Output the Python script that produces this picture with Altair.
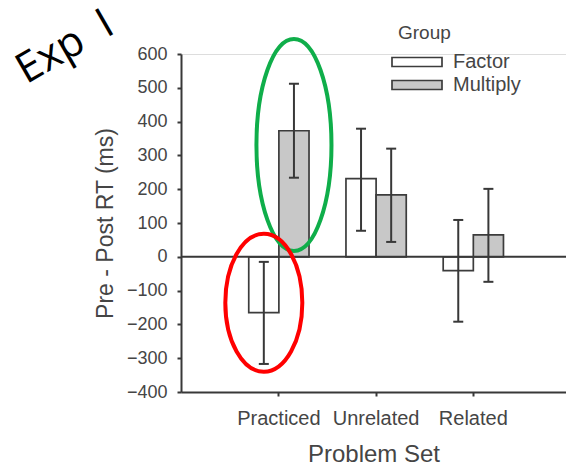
import altair as alt
import pandas as pd

# ---- data ----
categories = ["Practiced", "Unrelated", "Related"]
groups = ["Factor", "Multiply"]
factor_mean = [-165, 231, -41]
factor_lo = [-317, 77, -192]
factor_hi = [-15, 379, 109]
multiply_mean = [373, 183, 65]
multiply_lo = [234, 44, -74]
multiply_hi = [512, 320, 201]
y_ticks = [-400, -300, -200, -100, 0, 100, 200, 300, 400, 500, 600]

# annotation ellipses: category, group, centre value
green_ellipse = ["Practiced", "Multiply", 331]
red_ellipse = ["Practiced", "Factor", -136]

rows = []
for i, c in enumerate(categories):
    rows.append(dict(category=c, group="Factor", mean=factor_mean[i],
                     lo=factor_lo[i], hi=factor_hi[i]))
    rows.append(dict(category=c, group="Multiply", mean=multiply_mean[i],
                     lo=multiply_lo[i], hi=multiply_hi[i]))
df = pd.DataFrame(rows)

FONT = "Liberation Sans"
TEXT = "#454545"
INK = "#383838"

x_scale = alt.Scale(domain=categories, paddingInner=0.38, paddingOuter=0.67, align=0.52)
xo_scale = alt.Scale(domain=groups, paddingInner=0, paddingOuter=0)
y_scale = alt.Scale(domain=[-400, 600], nice=False, zero=False)

x_axis = alt.Axis(title="Problem Set", labelAngle=0, labelFontSize=20, labelFont=FONT,
                  labelColor=TEXT, titleFontSize=24, titleFont=FONT, titleColor=TEXT,
                  titleFontWeight="normal", domainColor=INK, domainWidth=2,
                  tickColor=INK, tickWidth=2, tickSize=4, labelPadding=12,
                  titlePadding=14, grid=False)
y_axis = alt.Axis(title="Pre - Post RT (ms)", values=y_ticks, labelFontSize=18,
                  labelFont=FONT, labelColor=TEXT, titleFontSize=23, titleFont=FONT,
                  titleColor=TEXT, titleFontWeight="normal", domainColor=INK,
                  domainWidth=2, tickColor=INK, tickWidth=2, tickSize=4,
                  labelPadding=10, titlePadding=9, grid=False)


def X():
    return alt.X("category:N", scale=x_scale, axis=x_axis)


def XO():
    return alt.XOffset("group:N", scale=xo_scale)


def Y(field):
    return alt.Y(field, scale=y_scale, axis=y_axis)


base = alt.Chart(df)

bars = base.mark_bar(stroke="#3c3c3c", strokeWidth=1.7).encode(
    x=X(), xOffset=XO(), y=Y("mean:Q"),
    fill=alt.Fill("group:N", scale=alt.Scale(domain=groups, range=["#ffffff", "#c8c8c8"]),
                  legend=alt.Legend(
                      title="Group", orient="none", legendX=217, legendY=-30,
                      symbolType="M -5 -0.9 L 5 -0.9 L 5 0.9 L -5 0.9 Z",
                      symbolSize=100, symbolOffset=9, symbolStrokeColor="#3c3c3c",
                      symbolStrokeWidth=1.7, labelFontSize=20, labelFont=FONT,
                      labelColor=TEXT, titleFontSize=19, titleFont=FONT,
                      titleColor=TEXT, titleFontWeight="normal", labelOffset=26,
                      rowPadding=3, titlePadding=9)),
)

err = base.mark_rule(color=INK, strokeWidth=2).encode(
    x=X(), xOffset=XO(), y=Y("lo:Q"), y2="hi:Q")
cap_lo = base.mark_tick(color=INK, thickness=2, size=10, opacity=1).encode(
    x=X(), xOffset=XO(), y=Y("lo:Q"))
cap_hi = base.mark_tick(color=INK, thickness=2, size=10, opacity=1).encode(
    x=X(), xOffset=XO(), y=Y("hi:Q"))

zero = alt.Chart(alt.Data(values=[{}])).mark_rule(color=INK, strokeWidth=2).encode(
    y=alt.datum(0, scale=y_scale, axis=y_axis))


def ellipse(spec, rx, size, color, dx):
    path = f"M 0 -1 A {rx} 1 0 1 1 0 1 A {rx} 1 0 1 1 0 -1 Z"
    d = pd.DataFrame([dict(category=spec[0], group=spec[1], v=spec[2])])
    return alt.Chart(d).mark_point(shape=path, size=size, filled=False, stroke=color,
                                   strokeWidth=4, opacity=1, dx=dx).encode(
        x=X(), xOffset=XO(), y=Y("v:Q"))


green = ellipse(green_ellipse, 0.354, 212 * 212, "#0fae4a", -5)
red = ellipse(red_ellipse, 0.558, 138 * 138, "#ff0000", -6)

label = alt.Chart(alt.Data(values=[{}])).mark_text(
    text="Exp\u00a0\u00a0I", font="Open Sans", fontSize=42, angle=330, color="#000000",
    align="center", baseline="middle").encode(x=alt.value(-116), y=alt.value(-7))

chart = alt.layer(bars, zero, err, cap_lo, cap_hi, green, red, label).properties(
    width=385, height=338,
    autosize=alt.AutoSizeParams(type="none"),
    padding={"left": 181, "top": 54, "right": 0, "bottom": 73},
).configure_view(strokeWidth=0, stroke="transparent").configure(background="white")

chart.save("out.html", embed_options={"renderer": "svg", "actions": False})
